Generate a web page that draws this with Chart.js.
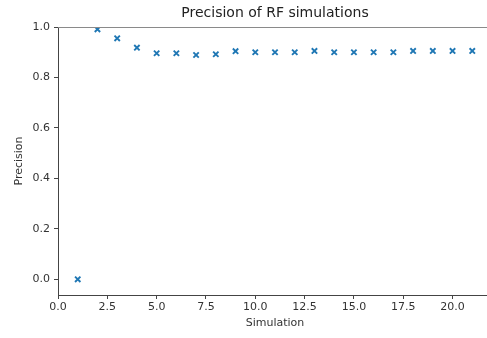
<!DOCTYPE html>
<html>
<head>
<meta charset="utf-8">
<script src="https://cdn.jsdelivr.net/npm/chart.js@4.4.0/dist/chart.umd.min.js"></script>
<style>
  html, body { margin: 0; padding: 0; background: #fff; overflow: hidden; }
  canvas { display: block; }
</style>
</head>
<body>
<canvas id="myChart" width="492" height="338" style="width:492px;height:338px"></canvas>
<script>
// simulation number vs. precision of each RF run
var simulations = [1, 2, 3, 4, 5, 6, 7, 8, 9, 10, 11, 12, 13, 14, 15, 16, 17, 18, 19, 20, 21];
var precision = [0.0, 0.991, 0.955, 0.918, 0.896, 0.896, 0.889, 0.892, 0.904, 0.900, 0.900,
                 0.900, 0.905, 0.900, 0.900, 0.900, 0.900, 0.905, 0.905, 0.905, 0.905];
var xTickStep = 2.5;
var yTickStep = 0.2;

var points = [];
for (var i = 0; i < simulations.length; i++) {
    points.push({ x: simulations[i], y: precision[i] });
}

// top spine like a matplotlib axes box
var topSpine = {
    id: 'topSpine',
    afterDraw: function(chart) {
        var a = chart.chartArea;
        var ctx = chart.ctx;
        ctx.save();
        ctx.strokeStyle = '#8a8a8a';
        ctx.lineWidth = 1;
        ctx.beginPath();
        ctx.moveTo(a.left, a.top + 0.5);
        ctx.lineTo(a.right, a.top + 0.5);
        ctx.stroke();
        ctx.restore();
    }
};

var tickFont = { family: 'DejaVu Sans', size: 11 };

const config = {
    type: 'scatter',
    data: {
        datasets: [{
            label: 'Precision',
            data: points,
            pointStyle: 'crossRot',
            pointRadius: 3.8,
            pointBorderWidth: 1.9,
            borderColor: '#1f77b4',
            backgroundColor: '#1f77b4'
        }]
    },
    options: {
        responsive: false,
        animation: false,
        layout: { autoPadding: false, padding: { left: 10, right: 0, top: 0, bottom: 0 } },
        plugins: {
            legend: { display: false },
            tooltip: { enabled: false },
            title: {
                display: true,
                fullSize: false, // centre over the plot area, not the canvas
                text: 'Precision of RF simulations',
                color: '#222',
                font: { family: 'DejaVu Sans', size: 14, weight: 'normal' },
                padding: { top: 5, bottom: 5.2 }
            }
        },
        scales: {
            x: {
                type: 'linear',
                min: 0,
                max: 22,
                afterFit: function(s) { s.height = 43; },
                border: { display: true, color: '#444', width: 1 },
                grid: { drawOnChartArea: false, drawTicks: true, tickLength: 4, color: '#444' },
                ticks: {
                    stepSize: xTickStep,
                    includeBounds: false,
                    padding: 2,
                    color: '#333',
                    font: tickFont,
                    maxRotation: 0,
                    callback: function(v) { return v.toFixed(1); }
                },
                title: {
                    display: true,
                    text: 'Simulation',
                    color: '#333',
                    font: tickFont,
                    padding: { top: 0, bottom: 8 }
                }
            },
            y: {
                min: -0.062,
                max: 1.0,
                afterFit: function(s) { s.width = 48; },
                border: { display: true, color: '#444', width: 1 },
                grid: { drawOnChartArea: false, drawTicks: true, tickLength: 4, color: '#444' },
                ticks: {
                    stepSize: yTickStep,
                    includeBounds: false,
                    padding: 4,
                    color: '#333',
                    font: tickFont,
                    callback: function(v) { return v.toFixed(1); }
                },
                title: {
                    display: true,
                    text: 'Precision',
                    color: '#333',
                    font: tickFont,
                    padding: { top: 3, bottom: 0 }
                }
            }
        }
    },
    plugins: [topSpine]
};

const myChart = new Chart(document.getElementById('myChart'), config);
</script>
</body>
</html>
